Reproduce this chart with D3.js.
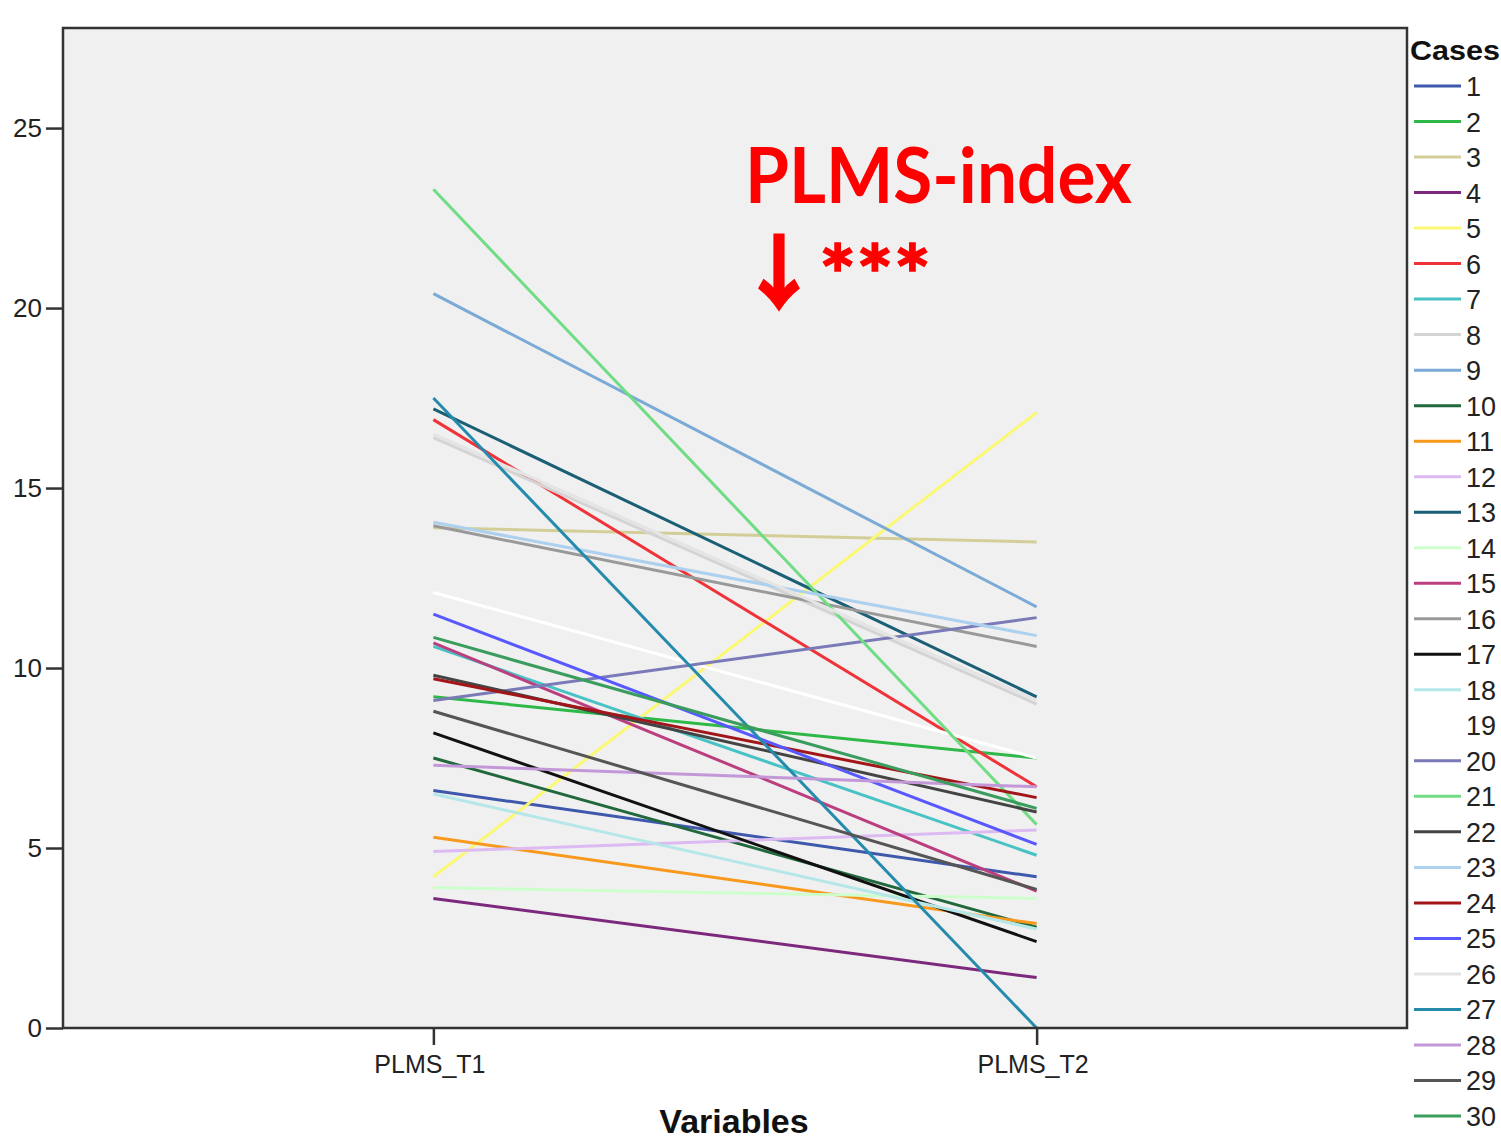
<!DOCTYPE html>
<html>
<head>
<meta charset="utf-8">
<script src="https://cdn.jsdelivr.net/npm/d3@7"></script>
<style>
  body { margin: 0; background: #fff; }
  svg text { font-family: "Liberation Sans", Arial, sans-serif; }
</style>
</head>
<body>
<svg id="chart" width="1501" height="1139"></svg>
<script>
// data
const variables = ["PLMS_T1", "PLMS_T2"];
const cases = d3.range(1, 31);
const t1 = [6.6, 9.2, 13.9, 3.6, 4.2, 16.9, 10.6, 16.4, 20.4, 7.5,
            5.3, 4.9, 17.2, 3.9, 10.7, 13.95, 8.2, 6.5, 12.1, 9.1,
            23.3, 9.8, 14.05, 9.7, 11.5, 16.5, 17.5, 7.3, 8.8, 10.85];
const t2 = [4.2, 7.5, 13.5, 1.4, 17.1, 6.7, 4.8, 9.0, 11.7, 2.8,
            2.9, 5.5, 9.2, 3.6, 3.8, 10.6, 2.4, 2.75, 7.5, 11.4,
            5.65, 6.0, 10.9, 6.4, 5.1, 9.1, 0.0, 6.7, 3.85, 6.1];
const caseColors = ["#3e58ac", "#2eb848", "#d3ce97", "#7c287d", "#fbf873",
                    "#ef3338", "#48c2c5", "#d4d4d4", "#7aaad5", "#21683c",
                    "#f8981d", "#ddbaf1", "#1a5f76", "#ccffcc", "#bb3f7f",
                    "#999999", "#111111", "#b6e7e8", "#ffffff", "#797ab7",
                    "#70dc84", "#444444", "#acd0ee", "#a21619", "#5858ff",
                    "#e4e4e4", "#248bac", "#c298d8", "#555555", "#3a9d5e"];
const yTicks = [0, 5, 10, 15, 20, 25];

const svg = d3.select("#chart");
const margin = {top: 28, right: 94, bottom: 111, left: 63};
const width = 1501 - margin.left - margin.right,
      height = 1139 - margin.top - margin.bottom;

const x = d3.scalePoint().domain(variables).range([0, width]).padding(0.614);
const y = d3.scaleLinear().domain([0, 27.78]).range([height, 0]);

const g = svg.append("g")
    .attr("transform", "translate(" + margin.left + "," + margin.top + ")");

g.append("rect")
    .attr("width", width).attr("height", height)
    .attr("fill", "#f0f0f0");

const rows = cases.map((c, i) => ({id: c, vals: [t1[i], t2[i]], color: caseColors[i]}));

const line = d3.line()
    .x((d, i) => x(variables[i]))
    .y(d => y(d));

g.selectAll(".case")
    .data(rows)
    .enter().append("path")
    .attr("class", "case")
    .attr("d", d => line(d.vals))
    .attr("fill", "none")
    .attr("stroke", d => d.color)
    .attr("stroke-width", 3);

g.append("rect")
    .attr("width", width).attr("height", height)
    .attr("fill", "none")
    .attr("stroke", "#333")
    .attr("stroke-width", 2.5);

// axes
const yAxis = g.append("g")
    .call(d3.axisLeft(y).tickValues(yTicks).tickSize(17).tickPadding(4));
yAxis.select(".domain").remove();
yAxis.selectAll("line").attr("stroke", "#333").attr("stroke-width", 2.5);
yAxis.selectAll("text").attr("font-size", 26).attr("fill", "#222");

const xAxis = g.append("g")
    .attr("transform", "translate(0," + height + ")")
    .call(d3.axisBottom(x).tickSize(17).tickPadding(10));
xAxis.select(".domain").remove();
xAxis.selectAll("line").attr("stroke", "#333").attr("stroke-width", 2.5);
xAxis.selectAll("text").attr("font-size", 25).attr("fill", "#222")
    .attr("dx", -4);

svg.append("text")
    .attr("x", 734).attr("y", 1133)
    .attr("text-anchor", "middle")
    .attr("font-size", 34).attr("font-weight", "bold")
    .attr("fill", "#111")
    .text("Variables");

// annotation
svg.append("text")
    .attr("x", 745).attr("y", 203)
    .style("font-family", "Lato, 'Open Sans', sans-serif")
    .attr("font-size", 76).attr("font-weight", "bold")
    .attr("fill", "#ff0000")
    .attr("textLength", 387).attr("lengthAdjust", "spacingAndGlyphs")
    .text("PLMS-index");

const mark = svg.append("text")
    .attr("x", 739).attr("y", 302)
    .attr("font-weight", "bold")
    .attr("fill", "#ff0000")
    .attr("stroke", "#ff0000");
mark.append("tspan")
    .style("font-family", "'Noto Sans CJK JP', 'Noto Sans CJK SC', sans-serif")
    .attr("font-size", 80).attr("stroke-width", 3)
    .text("↓");
mark.append("tspan")
    .attr("x", 819).attr("y", 306)
    .style("font-family", "Lato, sans-serif")
    .attr("font-size", 82).attr("stroke-width", 1.5)
    .attr("textLength", 112).attr("lengthAdjust", "spacingAndGlyphs")
    .text("***");

// legend
const legend = svg.append("g").attr("transform", "translate(1410,0)");
legend.append("text")
    .attr("x", 0).attr("y", 60)
    .attr("font-size", 28).attr("font-weight", "bold")
    .attr("fill", "#111")
    .attr("textLength", 90).attr("lengthAdjust", "spacingAndGlyphs")
    .text("Cases");

const ly = d3.scalePoint().domain(cases).range([86, 1116]);
const item = legend.selectAll(".item")
    .data(rows)
    .enter().append("g")
    .attr("class", "item")
    .attr("transform", d => "translate(0," + ly(d.id) + ")");
item.append("line")
    .attr("x1", 4).attr("x2", 51)
    .attr("stroke", d => d.color)
    .attr("stroke-width", 3);
item.append("text")
    .attr("x", 56).attr("y", 10)
    .attr("font-size", 27).attr("fill", "#222")
    .text(d => d.id);
</script>
</body>
</html>
